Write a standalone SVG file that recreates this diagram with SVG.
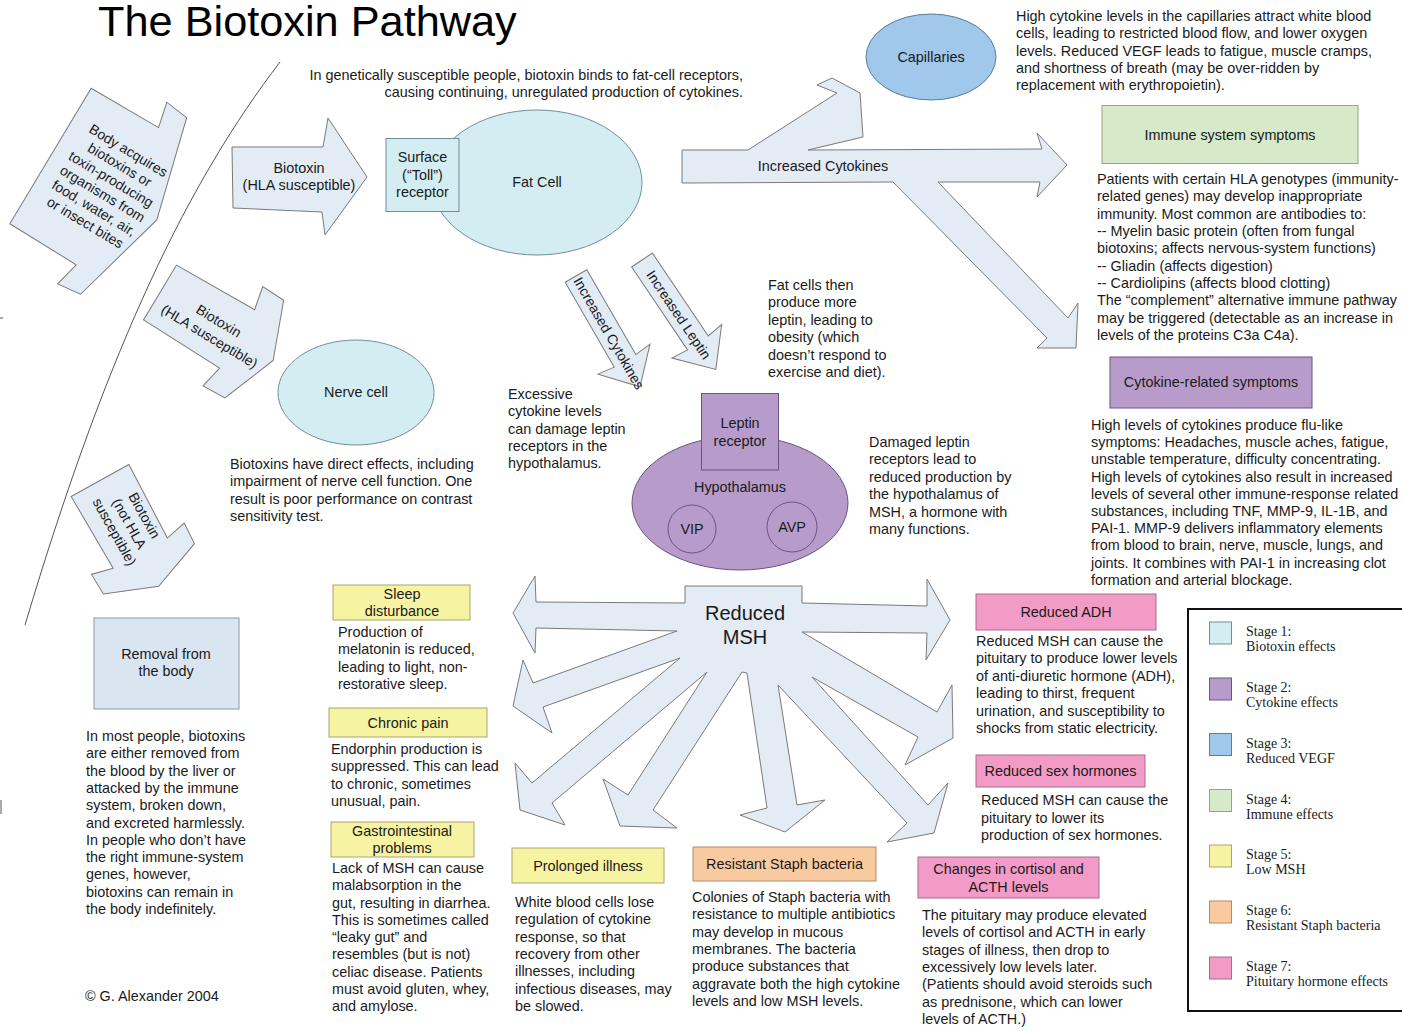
<svg xmlns="http://www.w3.org/2000/svg" width="1402" height="1033" viewBox="0 0 1402 1033">
<style>
.t{font-family:"Liberation Sans",Arial,sans-serif;font-size:14.4px;fill:#1a1a1a}
.a{font-family:"Liberation Sans",Arial,sans-serif;font-size:14px;fill:#1a1a1a;text-anchor:middle}
.c{text-anchor:middle}
.e{text-anchor:end}
.ar{fill:#e3ebf5;stroke:#7a7a7a;stroke-width:1;stroke-linejoin:miter}
.s1{fill:#d4edf3;stroke:#6f8f98;stroke-width:1}
.s2{fill:#b79ccb;stroke:#6b5580;stroke-width:1}
.s3{fill:#9fc8ea;stroke:#5b7c9a;stroke-width:1}
.s4{fill:#d6e9c8;stroke:#8eab7e;stroke-width:1}
.s5{fill:#f6f3a3;stroke:#a9a66a;stroke-width:1}
.s6{fill:#f9c9a0;stroke:#b08a6a;stroke-width:1}
.s7{fill:#f29bc6;stroke:#a86a88;stroke-width:1}
.rm{fill:#d9e6f2;stroke:#8a9aa8;stroke-width:1}
.lg{font-family:"Liberation Serif","Times New Roman",serif;font-size:14px;fill:#1a1a1a}
</style>

<text x="98" y="36" style="font-family:'Liberation Sans',Arial,sans-serif;font-size:43.3px;fill:#000">The Biotoxin Pathway</text>

<path d="M280,62 C190,180 110,340 25,625" fill="none" stroke="#555" stroke-width="1"/>
<line x1="0" y1="318" x2="3" y2="318" stroke="#555" stroke-width="1"/>
<line x1="1" y1="800" x2="1" y2="814" stroke="#555" stroke-width="1"/>

<g id="connectors">
  <g id="arrow-body" transform="translate(50.5,156) rotate(31)">
    <polygon class="ar" points="0,-79 78,-80 72,-106 97,-103 124,0 97,103 72,106 78,80 0,79"/>
    <text class="a"><tspan x="64" y="-40">Body acquires</tspan><tspan x="64" y="-23.2">biotoxins or</tspan><tspan x="64" y="-6.4">toxin-producing</tspan><tspan x="64" y="10.4">organisms from</tspan><tspan x="64" y="27.2">food, water, air,</tspan><tspan x="64" y="44">or insect bites</tspan></text>
  </g>
  <g id="arrow-biotoxin-hla">
    <polygon class="ar" points="232,147 323,147 328,118 367,177 325,235 322,212 233,208"/>
    <text class="t c"><tspan x="299" y="173">Biotoxin</tspan><tspan x="299" y="190">(HLA susceptible)</tspan></text>
  </g>
  <g id="arrow-biotoxin-hla-nerve" transform="translate(160,292.5) rotate(31)">
    <polygon class="ar" points="0,-32 90,-34 85,-58 110,-57 132,0 110,57 85,58 90,34 0,32"/>
    <text class="a"><tspan x="65" y="-1">Biotoxin</tspan><tspan x="65" y="17">(HLA susceptible)</tspan></text>
  </g>
  <g id="arrow-biotoxin-not-hla" transform="translate(100,480.5) rotate(61)">
    <polygon class="ar" points="0,-33 83,-31 78,-53 101,-52 121,0 101,52 78,53 83,31 0,33"/>
    <text class="a"><tspan x="52" y="-17">Biotoxin</tspan><tspan x="52" y="0">(not HLA</tspan><tspan x="52" y="17">susceptible)</tspan></text>
  </g>
  <g id="arrow-increased-cytokines-main">
    <polygon class="ar" points="682,150 748,150 837,93 817,85 832,78 860,93 863,137 808,150 1042,149 1037,133 1067,165 1037,197 1040,182 938,182 1068,318 1078,303 1076,348 1037,348 1047,338 893,182 682,183"/>
    <text class="t c" x="823" y="171">Increased Cytokines</text>
  </g>
  <g id="arrow-increased-cytokines-small" transform="translate(576,276) rotate(60)">
    <polygon class="ar" points="0,-12.5 98,-12.5 96,-30 128,0 96,30 98,12.5 0,12.5"/>
    <text class="a" x="66" y="5">Increased Cytokines</text>
  </g>
  <g id="arrow-increased-leptin" transform="translate(642,260) rotate(56)">
    <polygon class="ar" points="0,-12.5 100,-12.5 98,-30 132,0 98,30 100,12.5 0,12.5"/>
    <text class="a" x="66" y="5">Increased Leptin</text>
  </g>
  <g id="arrow-reduced-msh">
    <polygon class="ar" points="685,586 802,586 802,603 927,606 927,579 950,620 926,660 927,633 802,632 937,712 952,685 953,738 905,765 918,737 812,677 928,805 948,783 934,833 887,842 907,823 778,685 797,805 825,800 785,832 740,815 767,808 747,673 742,672 653,810 677,828 620,826 603,779 628,795 707,672 552,803 565,825 520,810 515,763 532,783 680,658 543,707 552,733 513,706 523,660 533,683 677,631 536,628 535,653 513,613 535,576 536,602 685,603"/>
    <text x="745" y="620" style="font-family:'Liberation Sans',Arial,sans-serif;font-size:20px;fill:#1a1a1a;text-anchor:middle">Reduced</text>
    <text x="745" y="644" style="font-family:'Liberation Sans',Arial,sans-serif;font-size:20px;fill:#1a1a1a;text-anchor:middle">MSH</text>
  </g>
</g>

<g id="note-genetic">
  <text class="t e"><tspan x="743" y="80">In genetically susceptible people, biotoxin binds to fat-cell receptors,</tspan><tspan x="743" y="97">causing continuing, unregulated production of cytokines.</tspan></text>
</g>

<g id="fat-cell">
  <ellipse class="s1" cx="537" cy="182.5" rx="105" ry="72.5"/>
  <text class="t c" x="537" y="187">Fat Cell</text>
</g>
<g id="surface-receptor">
  <rect class="s1" x="386" y="138.5" width="73" height="73"/>
  <text class="t c"><tspan x="422.5" y="162">Surface</tspan><tspan x="422.5" y="180">(“Toll”)</tspan><tspan x="422.5" y="197">receptor</tspan></text>
</g>

<g id="capillaries">
  <ellipse class="s3" cx="931" cy="57" rx="65" ry="43"/>
  <text class="t c" x="931" y="62">Capillaries</text>
</g>
<g id="note-capillaries">
  <text class="t"><tspan x="1016" y="21">High cytokine levels in the capillaries attract white blood</tspan><tspan x="1016" y="38">cells, leading to restricted blood flow, and lower oxygen</tspan><tspan x="1016" y="56">levels. Reduced VEGF leads to fatigue, muscle cramps,</tspan><tspan x="1016" y="73">and shortness of breath (may be over-ridden by</tspan><tspan x="1016" y="90">replacement with erythropoietin).</tspan></text>
</g>

<g id="immune-symptoms">
  <rect class="s4" x="1102" y="105.5" width="256" height="58"/>
  <text class="t c" x="1230" y="140">Immune system symptoms</text>
  <text class="t"><tspan x="1097" y="184">Patients with certain HLA genotypes (immunity-</tspan><tspan x="1097" y="201.3">related genes) may develop inappropriate</tspan><tspan x="1097" y="218.7">immunity. Most common are antibodies to:</tspan><tspan x="1097" y="236">-- Myelin basic protein (often from fungal</tspan><tspan x="1097" y="253.3">biotoxins; affects nervous-system functions)</tspan><tspan x="1097" y="270.7">-- Gliadin (affects digestion)</tspan><tspan x="1097" y="288">-- Cardiolipins (affects blood clotting)</tspan><tspan x="1097" y="305.3">The “complement” alternative immune pathway</tspan><tspan x="1097" y="322.7">may be triggered (detectable as an increase in</tspan><tspan x="1097" y="340">levels of the proteins C3a C4a).</tspan></text>
</g>

<g id="cytokine-symptoms">
  <rect class="s2" x="1110" y="357" width="202" height="51"/>
  <text class="t c" x="1211" y="387">Cytokine-related symptoms</text>
  <text class="t"><tspan x="1091" y="430">High levels of cytokines produce flu-like</tspan><tspan x="1091" y="447.2">symptoms: Headaches, muscle aches, fatigue,</tspan><tspan x="1091" y="464.4">unstable temperature, difficulty concentrating.</tspan><tspan x="1091" y="481.6">High levels of cytokines also result in increased</tspan><tspan x="1091" y="498.8">levels of several other immune-response related</tspan><tspan x="1091" y="516">substances, including TNF, MMP-9, IL-1B, and</tspan><tspan x="1091" y="533.2">PAI-1. MMP-9 delivers inflammatory elements</tspan><tspan x="1091" y="550.4">from blood to brain, nerve, muscle, lungs, and</tspan><tspan x="1091" y="567.6">joints. It combines with PAI-1 in increasing clot</tspan><tspan x="1091" y="584.8">formation and arterial blockage.</tspan></text>
</g>

<g id="note-fat-cells">
  <text class="t"><tspan x="768" y="290">Fat cells then</tspan><tspan x="768" y="307.4">produce more</tspan><tspan x="768" y="324.8">leptin, leading to</tspan><tspan x="768" y="342.2">obesity (which</tspan><tspan x="768" y="359.6">doesn’t respond to</tspan><tspan x="768" y="377">exercise and diet).</tspan></text>
</g>
<g id="note-excessive">
  <text class="t"><tspan x="508" y="399">Excessive</tspan><tspan x="508" y="416.3">cytokine levels</tspan><tspan x="508" y="433.5">can damage leptin</tspan><tspan x="508" y="450.8">receptors in the</tspan><tspan x="508" y="468">hypothalamus.</tspan></text>
</g>

<g id="hypothalamus">
  <ellipse class="s2" cx="740" cy="503" rx="108" ry="67"/>
  <text class="t c" x="740" y="492">Hypothalamus</text>
  <circle cx="692" cy="529" r="24" fill="none" stroke="#6b5580" stroke-width="1"/>
  <text class="t c" x="692" y="534">VIP</text>
  <circle cx="792" cy="527" r="25" fill="none" stroke="#6b5580" stroke-width="1"/>
  <text class="t c" x="792" y="532">AVP</text>
</g>
<g id="leptin-receptor">
  <rect class="s2" x="701.5" y="393.5" width="77" height="76.5"/>
  <text class="t c"><tspan x="740" y="428">Leptin</tspan><tspan x="740" y="446">receptor</tspan></text>
</g>
<g id="note-damaged">
  <text class="t"><tspan x="869" y="447">Damaged leptin</tspan><tspan x="869" y="464.4">receptors lead to</tspan><tspan x="869" y="481.8">reduced production by</tspan><tspan x="869" y="499.2">the hypothalamus of</tspan><tspan x="869" y="516.6">MSH, a hormone with</tspan><tspan x="869" y="534">many functions.</tspan></text>
</g>

<g id="nerve-cell">
  <ellipse class="s1" cx="356" cy="392.5" rx="78" ry="52.5"/>
  <text class="t c" x="356" y="397">Nerve cell</text>
</g>
<g id="note-nerve">
  <text class="t"><tspan x="230" y="469">Biotoxins have direct effects, including</tspan><tspan x="230" y="486.3">impairment of nerve cell function. One</tspan><tspan x="230" y="503.6">result is poor performance on contrast</tspan><tspan x="230" y="520.9">sensitivity test.</tspan></text>
</g>

<g id="removal">
  <rect class="rm" x="94" y="618" width="145" height="91"/>
  <text class="t c"><tspan x="166" y="659">Removal from</tspan><tspan x="166" y="676">the body</tspan></text>
  <text class="t"><tspan x="86" y="741">In most people, biotoxins</tspan><tspan x="86" y="758.3">are either removed from</tspan><tspan x="86" y="775.6">the blood by the liver or</tspan><tspan x="86" y="792.9">attacked by the immune</tspan><tspan x="86" y="810.2">system, broken down,</tspan><tspan x="86" y="827.5">and excreted harmlessly.</tspan><tspan x="86" y="844.8">In people who don’t have</tspan><tspan x="86" y="862.1">the right immune-system</tspan><tspan x="86" y="879.4">genes, however,</tspan><tspan x="86" y="896.7">biotoxins can remain in</tspan><tspan x="86" y="914">the body indefinitely.</tspan></text>
</g>
<text class="t" x="85" y="1001">© G. Alexander 2004</text>

<g id="sleep">
  <rect class="s5" x="333" y="585" width="137" height="35"/>
  <text class="t c"><tspan x="402" y="599">Sleep</tspan><tspan x="402" y="616">disturbance</tspan></text>
  <text class="t"><tspan x="338" y="637">Production of</tspan><tspan x="338" y="654.3">melatonin is reduced,</tspan><tspan x="338" y="671.6">leading to light, non-</tspan><tspan x="338" y="688.9">restorative sleep.</tspan></text>
</g>
<g id="chronic-pain">
  <rect class="s5" x="329" y="708" width="158" height="29"/>
  <text class="t c" x="408" y="728">Chronic pain</text>
  <text class="t"><tspan x="331" y="754">Endorphin production is</tspan><tspan x="331" y="771.3">suppressed. This can lead</tspan><tspan x="331" y="788.6">to chronic, sometimes</tspan><tspan x="331" y="805.9">unusual, pain.</tspan></text>
</g>
<g id="gastro">
  <rect class="s5" x="331" y="822" width="143" height="35"/>
  <text class="t c"><tspan x="402" y="836">Gastrointestinal</tspan><tspan x="402" y="853">problems</tspan></text>
  <text class="t"><tspan x="332" y="873">Lack of MSH can cause</tspan><tspan x="332" y="890.3">malabsorption in  the</tspan><tspan x="332" y="907.5">gut, resulting in diarrhea.</tspan><tspan x="332" y="924.8">This is sometimes called</tspan><tspan x="332" y="942">“leaky gut” and</tspan><tspan x="332" y="959.3">resembles (but is not)</tspan><tspan x="332" y="976.5">celiac disease. Patients</tspan><tspan x="332" y="993.8">must avoid gluten, whey,</tspan><tspan x="332" y="1011">and amylose.</tspan></text>
</g>
<g id="prolonged">
  <rect class="s5" x="512" y="848" width="152" height="35"/>
  <text class="t c" x="588" y="871">Prolonged illness</text>
  <text class="t"><tspan x="515" y="907">White blood cells lose</tspan><tspan x="515" y="924.3">regulation of cytokine</tspan><tspan x="515" y="941.6">response, so that</tspan><tspan x="515" y="958.9">recovery from other</tspan><tspan x="515" y="976.2">illnesses, including</tspan><tspan x="515" y="993.5">infectious diseases, may</tspan><tspan x="515" y="1010.8">be slowed.</tspan></text>
</g>
<g id="staph">
  <rect class="s6" x="693" y="847" width="183" height="34"/>
  <text class="t c" x="784.5" y="869">Resistant Staph bacteria</text>
  <text class="t"><tspan x="692" y="902">Colonies of Staph bacteria with</tspan><tspan x="692" y="919.3">resistance to multiple antibiotics</tspan><tspan x="692" y="936.6">may develop in mucous</tspan><tspan x="692" y="953.9">membranes. The bacteria</tspan><tspan x="692" y="971.2">produce substances that</tspan><tspan x="692" y="988.5">aggravate both the high cytokine</tspan><tspan x="692" y="1005.8">levels and low MSH levels.</tspan></text>
</g>
<g id="cortisol">
  <rect class="s7" x="918" y="857" width="181" height="41"/>
  <text class="t c"><tspan x="1008.5" y="874">Changes in cortisol and</tspan><tspan x="1008.5" y="892">ACTH levels</tspan></text>
  <text class="t"><tspan x="922" y="920">The pituitary may produce elevated</tspan><tspan x="922" y="937.3">levels of cortisol and ACTH in early</tspan><tspan x="922" y="954.6">stages of illness, then drop to</tspan><tspan x="922" y="971.9">excessively low levels later.</tspan><tspan x="922" y="989.2">(Patients should avoid steroids such</tspan><tspan x="922" y="1006.5">as prednisone, which can lower</tspan><tspan x="922" y="1023.8">levels of ACTH.)</tspan></text>
</g>
<g id="adh">
  <rect class="s7" x="976" y="594" width="180" height="36"/>
  <text class="t c" x="1066" y="617">Reduced ADH</text>
  <text class="t"><tspan x="976" y="646">Reduced MSH can cause the</tspan><tspan x="976" y="663.4">pituitary to produce lower levels</tspan><tspan x="976" y="680.8">of anti-diuretic hormone (ADH),</tspan><tspan x="976" y="698.2">leading to thirst, frequent</tspan><tspan x="976" y="715.6">urination, and susceptibility to</tspan><tspan x="976" y="733">shocks from static electricity.</tspan></text>
</g>
<g id="sex-hormones">
  <rect class="s7" x="976" y="755" width="169" height="32"/>
  <text class="t c" x="1060.5" y="776">Reduced sex hormones</text>
  <text class="t"><tspan x="981" y="805">Reduced MSH can cause the</tspan><tspan x="981" y="822.5">pituitary to lower its</tspan><tspan x="981" y="840">production of sex hormones.</tspan></text>
</g>

<g id="legend">
  <rect x="1188" y="609" width="230" height="402" fill="#fff" stroke="#111" stroke-width="2"/>
  <rect class="s1" x="1209.5" y="622" width="22" height="22"/>
  <text class="lg"><tspan x="1246" y="636">Stage 1:</tspan><tspan x="1246" y="651">Biotoxin effects</tspan></text>
  <rect class="s2" x="1209.5" y="678" width="22" height="22"/>
  <text class="lg"><tspan x="1246" y="692">Stage 2:</tspan><tspan x="1246" y="707">Cytokine  effects</tspan></text>
  <rect class="s3" x="1209.5" y="733.5" width="22" height="22"/>
  <text class="lg"><tspan x="1246" y="747.5">Stage 3:</tspan><tspan x="1246" y="762.5">Reduced VEGF</tspan></text>
  <rect class="s4" x="1209.5" y="789.5" width="22" height="22"/>
  <text class="lg"><tspan x="1246" y="803.5">Stage 4:</tspan><tspan x="1246" y="818.5">Immune effects</tspan></text>
  <rect class="s5" x="1209.5" y="845" width="22" height="22"/>
  <text class="lg"><tspan x="1246" y="859">Stage 5:</tspan><tspan x="1246" y="874">Low MSH</tspan></text>
  <rect class="s6" x="1209.5" y="901" width="22" height="22"/>
  <text class="lg"><tspan x="1246" y="915">Stage 6:</tspan><tspan x="1246" y="930">Resistant Staph bacteria</tspan></text>
  <rect class="s7" x="1209.5" y="957" width="22" height="22"/>
  <text class="lg"><tspan x="1246" y="971">Stage 7:</tspan><tspan x="1246" y="986">Pituitary hormone effects</tspan></text>
</g>
</svg>
